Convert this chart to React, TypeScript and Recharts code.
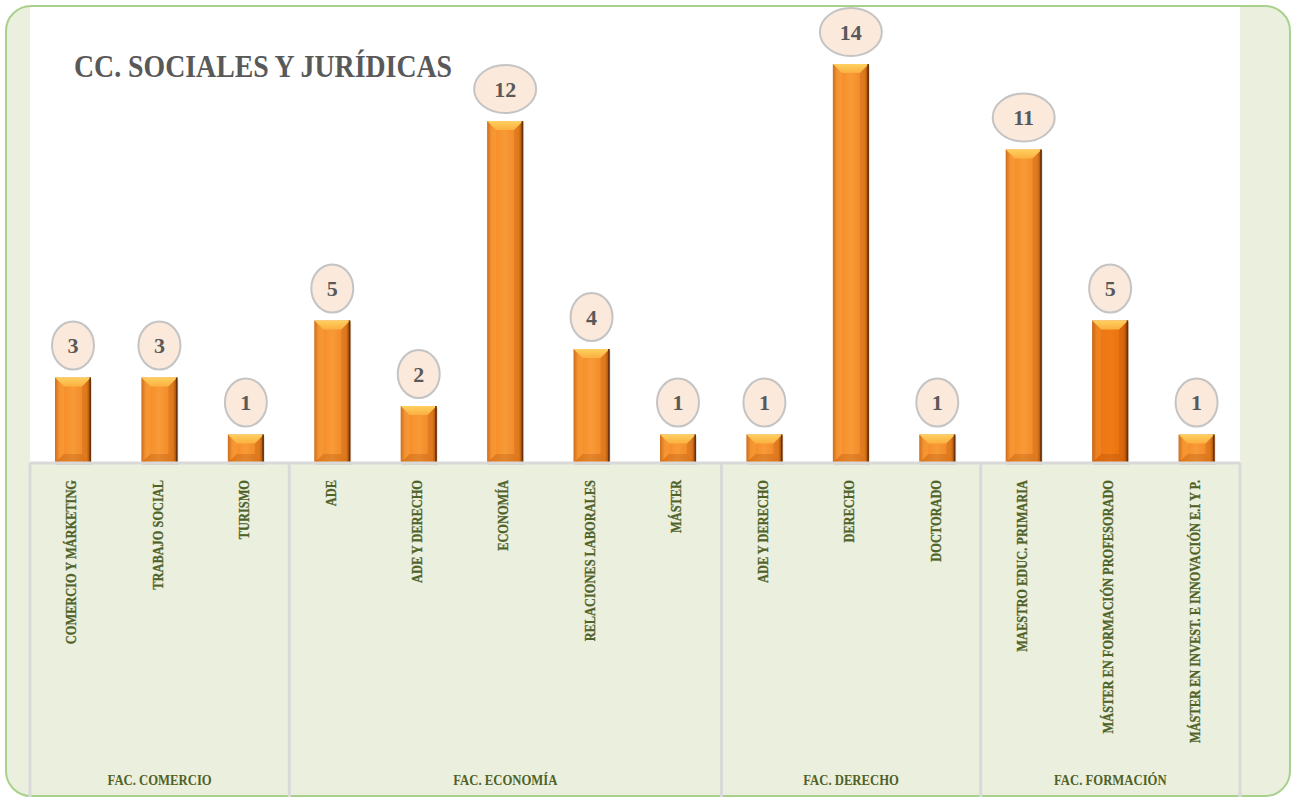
import { BarChart, Bar, XAxis, YAxis, CartesianGrid, LabelList, Cell } from "recharts"

const CATEGORIES = [
  "COMERCIO Y MÁRKETING",
  "TRABAJO SOCIAL",
  "TURISMO",
  "ADE",
  "ADE Y DERECHO",
  "ECONOMÍA",
  "RELACIONES LABORALES",
  "MÁSTER",
  "ADE Y DERECHO",
  "DERECHO",
  "DOCTORADO",
  "MAESTRO EDUC. PRIMARIA",
  "MÁSTER EN FORMACIÓN PROFESORADO",
  "MÁSTER EN INVEST. E INNOVACIÓN E.I Y P.",
]
const VALUES = [3, 3, 1, 5, 2, 12, 4, 1, 1, 14, 1, 11, 5, 1]
const FACULTIES = ["FAC. COMERCIO", "FAC. ECONOMÍA", "FAC. DERECHO", "FAC. FORMACIÓN"]
const FACULTY_OF = [0, 0, 0, 1, 1, 1, 1, 1, 2, 2, 2, 3, 3, 3]
const Y_DOMAIN = [0, 16]

const W = 1293
const H = 797
const LEFT = 30
const RIGHT = 53
const AXIS_H = 334
const BAND = (W - LEFT - RIGHT) / CATEGORIES.length
const SERIF = "'Liberation Serif', 'DejaVu Serif', serif"
const GREEN_TEXT = "#4f6228"

const data = CATEGORIES.map((name, i) => ({ name, value: VALUES[i], fac: FACULTY_OF[i] }))

function groupMiddle(i: number) {
  const members = FACULTY_OF.map((f, k) => (f === FACULTY_OF[i] ? k : -1)).filter((k) => k >= 0)
  return members[Math.floor(members.length / 2)] === i
}

function CategoryTick(props: any) {
  const { x, y, payload, index } = props
  const g = FACULTY_OF[index]
  const first = index === 0 || FACULTY_OF[index - 1] !== g
  const last = index === CATEGORIES.length - 1
  return (
    <g>
      {first && (
        <line x1={x - BAND / 2} x2={x - BAND / 2} y1={y} y2={H} stroke="#d9d9d9" strokeWidth={3} />
      )}
      {last && (
        <line x1={x + BAND / 2} x2={x + BAND / 2} y1={y} y2={H} stroke="#d9d9d9" strokeWidth={3} />
      )}
      <text
        transform={`translate(${x + 3},${y + 17}) rotate(-90) scale(0.8,1)`}
        textAnchor="end"
        fontFamily={SERIF}
        fontWeight="bold"
        fontSize={15.5}
        fill={GREEN_TEXT}
        stroke={GREEN_TEXT}
        strokeWidth={0.3}
      >
        {payload.value}
      </text>
      {groupMiddle(index) && (
        <text
          transform={`translate(${x},${y + 322}) scale(0.82,1)`}
          textAnchor="middle"
          fontFamily={SERIF}
          fontWeight="bold"
          fontSize={15.5}
          fill={GREEN_TEXT}
        >
          {FACULTIES[g]}
        </text>
      )}
    </g>
  )
}

function BevelBar(props: any) {
  const { x, y, width, height, fill } = props
  if (!height || height <= 0) return null
  const b = Math.min(9, height / 2, width / 2)
  return (
    <g>
      <rect x={x + 1} y={y + 2} width={width} height={height} fill="rgba(0,0,0,0.12)" />
      <rect x={x} y={y} width={width} height={height} fill={fill} />
      <polygon
        points={`${x},${y} ${x + width},${y} ${x + width - b},${y + b} ${x + b},${y + b}`}
        fill="url(#bevelTop)"
      />
      <polygon
        points={`${x},${y} ${x + b},${y + b} ${x + b},${y + height - b} ${x},${y + height}`}
        fill="rgba(255,200,120,0.15)"
      />
      <polygon
        points={`${x + width},${y} ${x + width - b},${y + b} ${x + width - b},${y + height - b} ${x + width},${y + height}`}
        fill="rgba(120,50,0,0.15)"
      />
      <polygon
        points={`${x},${y + height} ${x + b},${y + height - b} ${x + width - b},${y + height - b} ${x + width},${y + height}`}
        fill="rgba(150,60,0,0.22)"
      />
      <rect x={x + width - 1.5} y={y} width={1.5} height={height} fill="#6b3208" />
    </g>
  )
}

function BubbleLabel(props: any) {
  const { x, y, width, value } = props
  const cx = x + width / 2
  const cy = y - 32
  const rx = 21 + (String(value).length - 1) * 10
  return (
    <g>
      <ellipse cx={cx} cy={cy} rx={rx} ry={24} fill="#fbe9dc" stroke="#c4c4c4" strokeWidth={2} />
      <text
        x={cx}
        y={cy + 7.5}
        textAnchor="middle"
        fontFamily={SERIF}
        fontWeight="bold"
        fontSize={22}
        fill="#595959"
      >
        {value}
      </text>
    </g>
  )
}

export default function App() {
  return (
    <div style={{ position: "absolute", left: 0, top: 0, width: W, height: H, overflow: "hidden" }}>
      <div
        style={{
          position: "absolute",
          left: 5,
          top: 5,
          width: W - 7,
          height: H - 5,
          boxSizing: "border-box",
          border: "2px solid #a9d18e",
          borderRadius: 26,
          background: "#ebf0de",
        }}
      />
      <div style={{ position: "absolute", left: 0, top: 0 }}>
        <BarChart
          width={W}
          height={H}
          data={data}
          margin={{ top: 7, right: RIGHT, left: LEFT, bottom: 0 }}
          barCategoryGap={0}
        >
          <defs>
            <linearGradient id="barBody" x1="0" y1="0" x2="1" y2="0">
              <stop offset="0%" stopColor="#c2600f" />
              <stop offset="12%" stopColor="#f48a24" />
              <stop offset="50%" stopColor="#f89a38" />
              <stop offset="88%" stopColor="#f08522" />
              <stop offset="100%" stopColor="#9c4a0c" />
            </linearGradient>
            <linearGradient id="barBodyDark" x1="0" y1="0" x2="1" y2="0">
              <stop offset="0%" stopColor="#b95508" />
              <stop offset="12%" stopColor="#ec7410" />
              <stop offset="50%" stopColor="#f07b16" />
              <stop offset="88%" stopColor="#e86e0c" />
              <stop offset="100%" stopColor="#8f4008" />
            </linearGradient>
            <linearGradient id="bevelTop" x1="0" y1="0" x2="0" y2="1">
              <stop offset="0%" stopColor="#ffd060" />
              <stop offset="100%" stopColor="#fbb040" />
            </linearGradient>
          </defs>
          <CartesianGrid fill="#ffffff" horizontal={false} vertical={false} />
          <XAxis
            dataKey="name"
            height={AXIS_H}
            interval={0}
            tickLine={false}
            tickSize={0}
            tickMargin={0}
            axisLine={{ stroke: "#d9d9d9", strokeWidth: 3 }}
            tick={<CategoryTick />}
          />
          <YAxis hide domain={Y_DOMAIN} />
          <Bar dataKey="value" barSize={36} shape={<BevelBar />} isAnimationActive={false}>
            {data.map((d, i) => (
              <Cell key={i} fill={i === 12 ? "url(#barBodyDark)" : "url(#barBody)"} />
            ))}
            <LabelList dataKey="value" content={<BubbleLabel />} />
          </Bar>
        </BarChart>
      </div>
      <svg style={{ position: "absolute", left: 0, top: 0 }} width={W} height={120}>
        <text
          x={74}
          y={77}
          fontFamily={SERIF}
          fontWeight="bold"
          fontSize={31}
          fill="#595959"
          textLength={378}
          lengthAdjust="spacingAndGlyphs"
        >
          CC. SOCIALES Y JURÍDICAS
        </text>
      </svg>
    </div>
  )
}
